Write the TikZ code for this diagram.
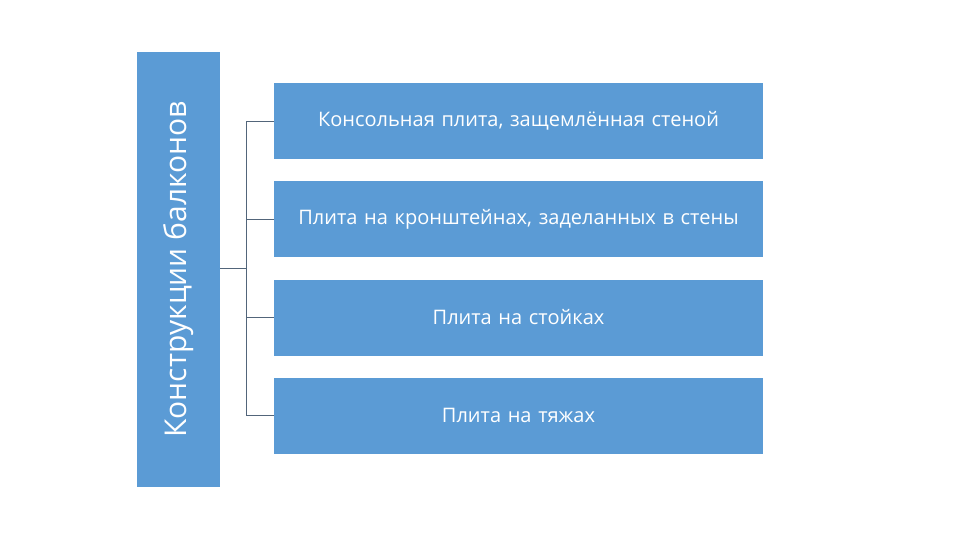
\documentclass[tikz,border=0pt]{standalone}
\usepackage{fontspec}
\setmainfont{Open Sans}
\begin{document}
\begin{tikzpicture}[x=0.75pt,y=-0.75pt,
  box/.style={fill=boxblue,draw=none,inner sep=0pt,minimum width=489*0.75pt,minimum height=76*0.75pt,text=white,align=center,font=\fontsize{15}{19}\selectfont,text width=470*0.75pt},
  conn/.style={draw=connc,line width=0.6pt}]
\definecolor{boxblue}{HTML}{5B9BD5}
\definecolor{connc}{HTML}{52657A}
\useasboundingbox (0,0) rectangle (960,540);
\node[fill=boxblue,minimum width=83*0.75pt,minimum height=435*0.75pt,inner sep=0pt] (root) at (178.5,269.5) {};
\node[rotate=90,text=white,font=\fontsize{22.5}{26}\selectfont] at (root.center) {Конструкции балконов};
\node[box] (b1) at (518.5,121) {Консольная плита, защемлённая стеной};
\node[box] (b2) at (518.5,219) {Плита на кронштейнах, заделанных в стены};
\node[box] (b3) at (518.5,317.5) {Плита на стойках};
\node[box] (b4) at (518.5,415.5) {Плита на тяжах};
\coordinate (j) at (246,268);
\draw[conn] (root.east |- j) -- (j);
\draw[conn] (b1.west) -| (j);
\draw[conn] (b4.west) -| (j);
\draw[conn] (b2.west) -- (b2.west -| j);
\draw[conn] (b3.west) -- (b3.west -| j);
\end{tikzpicture}
\end{document}
